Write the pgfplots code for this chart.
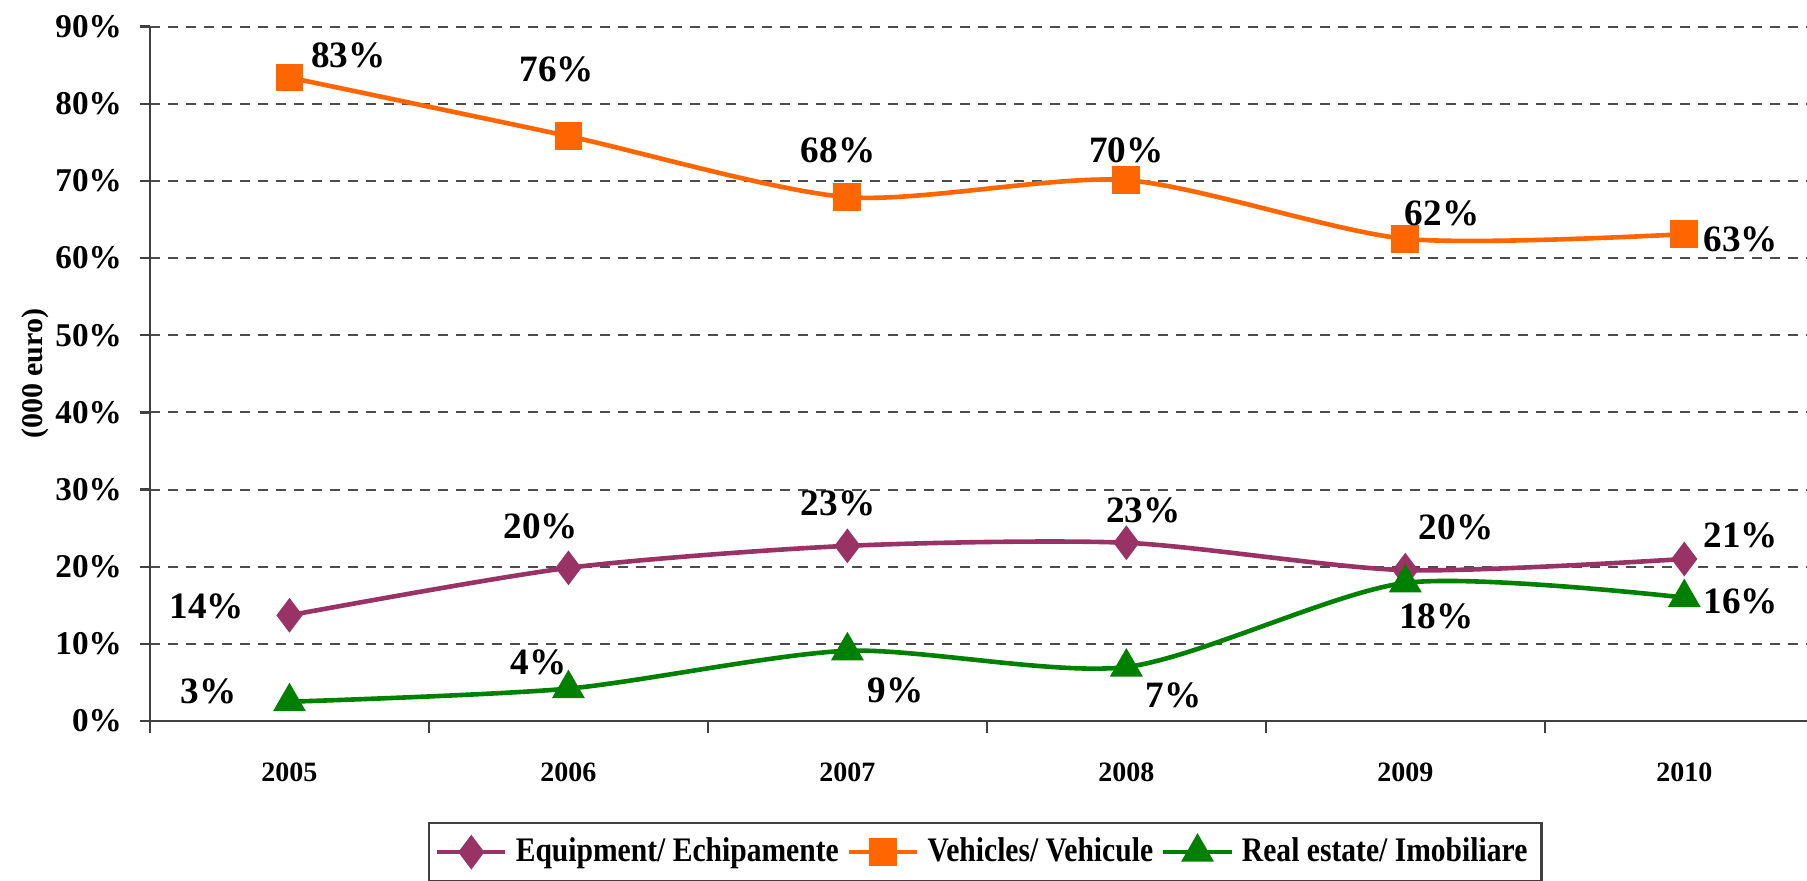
\documentclass[border=0pt]{standalone}
\usepackage{fontspec}
\setmainfont{Liberation Serif}
\newfontfamily\legfont{Liberation Serif}[FakeStretch=0.86]
\usepackage{pgfplots}
\usepackage{pgfplotstable}
\pgfplotsset{compat=1.18}
\definecolor{equip}{HTML}{993366}
\definecolor{vehic}{HTML}{FF6600}
\definecolor{realest}{HTML}{008000}

% x y dx dy lbl  (dx, dy = label offset in pt)
\pgfplotstableread{
x y dx dy lbl
0 13.7 -20.7 2.3 14
1 19.85 -6.9 10.4 20
2 22.7 -2.3 10.7 23
3 23.1 4.3 8.1 23
4 19.55 12.7 10.7 20
5 21.0 14.1 5.8 21
}\equipdata
\pgfplotstableread{
x y dx dy lbl
0 83.4 14.7 5.5 83
1 75.8 -2.9 16.7 76
2 67.9 -2.3 11.8 68
3 70.1 0 7.5 70
4 62.5 9.2 6.3 62
5 63.1 14.1 -1.4 63
}\vehicdata
\pgfplotstableread{
x y dx dy lbl
0 2.5 -20.2 2.6 3
1 4.2 -7.5 6.6 4
2 9.1 12.1 -9.8 9
3 7.0 11.8 -7.2 7
4 17.9 7.8 -8.4 18
5 16.0 14.1 -0.9 16
}\realdata

\begin{document}
\begin{tikzpicture}
\begin{axis}[
    name=ax,
    scale only axis,
    width=414.25pt, height=173.6pt,
    xmin=-0.5, xmax=5.44,
    ymin=0, ymax=90,
    axis x line=bottom, axis y line=left,
    axis line style={-, black!75, line width=0.6pt},
    xtick={0,...,5},
    xticklabels={2005,2006,2007,2008,2009,2010},
    minor xtick={-0.5,0.5,1.5,2.5,3.5,4.5},
    major x tick style={draw=none},
    minor x tick style={black!75, line width=0.6pt},
    ytick={0,10,...,90},
    yticklabel={\pgfmathprintnumber{\tick}\%},
    /pgf/number format/assume math mode=true,
    tick align=outside,
    major tick length=2.5pt, minor tick length=3pt,
    ytick style={black!75, line width=0.6pt},
    x tick label style={font=\fontsize{7}{8}\selectfont\bfseries, yshift=-4.5pt},
    y tick label style={font=\fontsize{8.3}{9}\selectfont\bfseries, xshift=-1pt},
    ymajorgrids,
    major grid style={black!70, line width=0.5pt, dash pattern=on 2.5pt off 2pt},
    ylabel={(000 euro)},
    every axis y label/.style={at={(axis description cs:-0.0694,0.5)}, rotate=90, anchor=center,
        font=\fontsize{7.5}{8}\selectfont\bfseries},
    clip=false,
    legend columns=3,
    legend style={at={(0.504,0)}, anchor=north, yshift=-25.25pt,
        draw=black!75, line width=0.6pt,
        font=\legfont\fontsize{8.6}{9}\selectfont\bfseries,
        inner sep=1.5pt,
        /tikz/every even column/.append style={column sep=0pt}},
    legend cell align=left,
    point meta=explicit symbolic,
    nodes near coords={\pgfplotspointmeta\%},
    visualization depends on={\thisrow{dx} \as \dx},
    visualization depends on={\thisrow{dy} \as \dy},
    every node near coord/.append style={anchor=center, xshift=\dx pt, yshift=\dy pt,
        text=black, font=\fontsize{9.3}{10}\selectfont\bfseries},
]
\addplot[equip, line width=1.15pt, smooth, tension=0.45,
    mark=diamond*, mark size=3.4pt, mark options={solid, fill=equip}]
    table[x=x, y=y, meta=lbl] {\equipdata};
\addplot[vehic, line width=1.15pt, smooth, tension=0.45,
    mark=square*, mark size=2.9pt, mark options={solid, fill=vehic}]
    table[x=x, y=y, meta=lbl] {\vehicdata};
\addplot[realest, line width=1.15pt, smooth, tension=0.45,
    mark=triangle*, mark size=3.6pt, mark options={solid, fill=realest}]
    table[x=x, y=y, meta=lbl] {\realdata};
\legend{Equipment/ Echipamente, Vehicles/ Vehicule, Real estate/ Imobiliare}
\end{axis}
\pgfresetboundingbox
\path (ax.south west) ++(-37.5pt,-39.75pt) rectangle ++(451.75pt,220pt);
\end{tikzpicture}
\end{document}
